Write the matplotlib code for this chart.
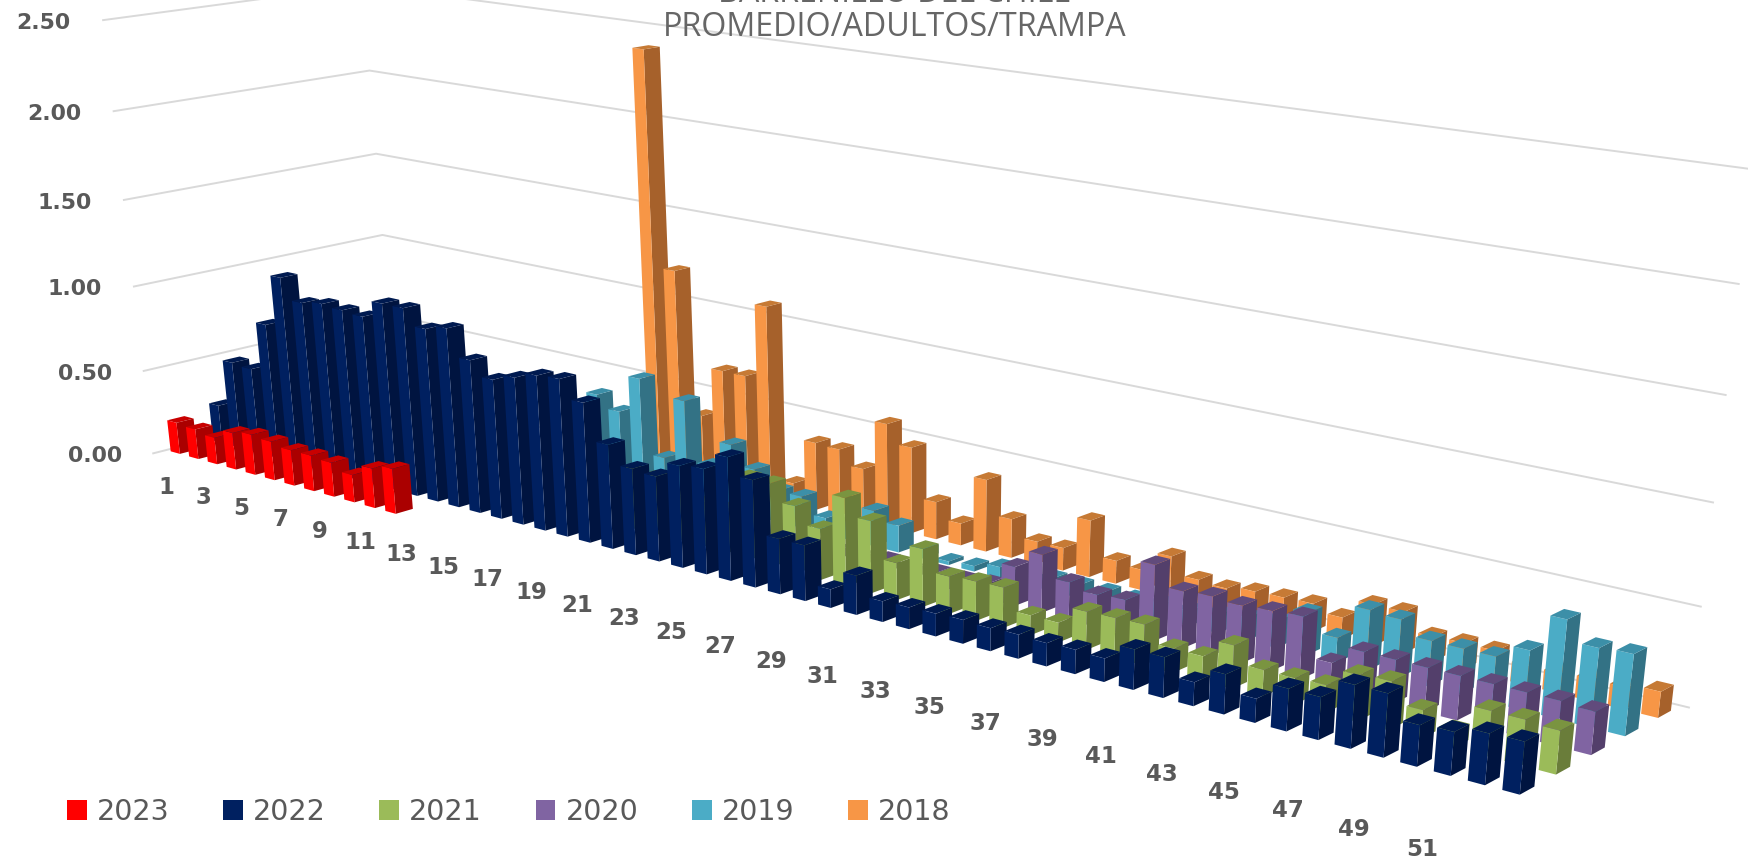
import numpy as np
import matplotlib
matplotlib.use("Agg")
import matplotlib.pyplot as plt
from matplotlib.patches import Patch
from mpl_toolkits.mplot3d import Axes3D  # noqa

n = np.nan
weeks = list(range(1, 53))
years = ["2023", "2022", "2021", "2020", "2019", "2018"]
z_ticks = [0, 0.5, 1.0, 1.5, 2.0, 2.5]

v2023 = [.19, .18, .16, .22, .24, .23, .21, .21, .20, .16, .23, .26]
v2022 = [.23, .52, .51, .80, 1.10, .98, 1.00, .99, .98, 1.08, 1.08, .99, 1.02,
         .87, .79, .83, .87, .88, .78, .58, .48, .47, .56, .575, .67, .58,
         .30, .30, .10, .21, .11, .115, .12, .125, .12, .125, .12, .125, .12,
         .205, .205, .12, .20, .12, .21, .21, .31, .31, .20, .21, .245, .25]
v2021 = [n]*18 + [.33, .33, .25, .25, .25, .46, .46, .37, .28, .48, .39, .20,
         .31, .20, .21, .215, .105, .105, .20, .205, .21, .125, .125, .22, .135,
         .135, .14, .23, .24, .14, .08, .22, .22, .21]
v2020 = [n]*24 + [.05, .05, .05, .07, .05, .07, .07, .085, .21, .31, .20, .17,
         .18, .40, .30, .31, .30, .31, .32, .125, .22, .22, .22, .22, .22, .22,
         .22, .21]
v2019 = [n]*13 + [.49, .42, .64, .21, .57, .23, .38, .27, .18, .18, .09, .10,
         .20, .15, .05, .02, .03, .06, .06, .07, .07, .07, .07, .08, .08, .10,
         .12, .14, .22, .13, .31, .30, .23, .23, .23, .30, .49, .39, .40]
v2018 = [n]*14 + [2.40, 1.20, .39, .68, .68, 1.10, .12, .386, .38, .30, .585,
         .484, .21, .123, .40, .215, .125, .125, .31, .125, .11, .22, .13, .12,
         .14, .145, .15, .115, .22, .22, .13, .135, .135, .10, .10, .11, .11, .13]
series = [v2023, v2022, v2021, v2020, v2019, v2018]

front = ["#FF0000", "#002060", "#9BBB59", "#8064A2", "#4BACC6", "#F79646"]
side = ["#AA0000", "#001440", "#6A7D3A", "#533F6B", "#337285", "#A6612B"]
top = ["#C80000", "#001A50", "#7A9440", "#614B7C", "#3C8FA8", "#C67A35"]
bar_dx, bar_dy = 0.5, 0.4

# Camera calibration: 3D chart positions and where the reference shows them
world = [(.5, -.5, 0), (.5, -.5, .5), (.5, -.5, 1), (.5, -.5, 1.5), (.5, -.5, 2), (.5, -.5, 2.5),
         (.5, 5.5, 1), (.5, 5.5, 1.5), (.5, 5.5, 2),
         (52.5, 5.5, 0), (52.5, 5.5, .5), (52.5, 5.5, 1), (52.5, 5.5, 1.5), (52.5, 5.5, 2),
         (1.25, -.2, 0), (12.25, -.2, 0), (52.25, .8, 0), (52.25, 1.8, 0), (52.25, 2.8, 0),
         (52.25, 3.8, 0), (52.25, 4.8, 0)]
image = [(153, 454), (144, 371), (134, 287), (124, 200), (114, 111), (103, 20),
         (383, 235), (376, 154), (369, 70),
         (1688, 708), (1701, 607), (1713, 503), (1725, 395), (1739, 284),
         (180, 453), (395, 514), (1519, 795), (1556, 774), (1592, 755), (1626, 736), (1658, 717)]

rows = []
for (X, Y, Z), (u, v) in zip(world, image):
    rows.append([X, Y, Z, 1, 0, 0, 0, 0, -u*X, -u*Y, -u*Z, -u])
    rows.append([0, 0, 0, 0, X, Y, Z, 1, -v*X, -v*Y, -v*Z, -v])
norm = np.diag([1/50, 1/6, 1/2.5, 1, 1/50, 1/6, 1/2.5, 1, 1/5e4, 1/6e3, 1/2.5e3, 1/1e3])
_, _, Vt = np.linalg.svd(np.array(rows) @ norm)
P = (norm @ Vt[-1]).reshape(3, 4)
P = P / (P[2] @ np.array([26, 2, 0, 1]))

W, H = 1748, 866
fig = plt.figure(figsize=(W/100, H/100), dpi=100, facecolor="white")
ax = fig.add_axes([0, 0, 1, 1], projection="3d", computed_zorder=False)
ax.patch.set_visible(False)
ax.set_axis_off()
ax.apply_aspect = lambda position=None: None


def fixed_projection():
    to_data = ax.transData.inverted().get_matrix()
    flip = np.array([[1, 0, 0], [0, -1, H], [0, 0, 1.0]])
    Q = to_data @ flip @ P
    return np.array([Q[0], Q[1], [0, 0, 0, -1.0], Q[2]])


ax.get_proj = fixed_projection


def fig_pos(X, Y, Z):
    u, v, w = P @ np.array([X, Y, Z, 1.0])
    return (u/w)/W, 1 - (v/w)/H


grey = "#D9D9D9"
for z in z_ticks:
    ax.plot([.5, .5, 52.5], [-.5, 5.5, 5.5], [z, z, z], color=grey, lw=1.4, zorder=1, clip_on=False)

clear = (0, 0, 0, 0)
order = 10
for r in range(5, -1, -1):
    for w, val in zip(weeks, series[r]):
        if np.isnan(val):
            continue
        faces = [clear, top[r], front[r], clear, clear, side[r]]
        col = ax.bar3d([w - bar_dx/2], [r - bar_dy/2], [0], [bar_dx], [bar_dy], [val],
                       color=faces, shade=False, linewidth=0)
        col.set_zorder(order)
        col.set_clip_on(False)
        order += 1

text_col = "#595959"
for z in z_ticks:
    fx, fy = fig_pos(-.24, -.91, z - .012)
    fig.text(fx, fy, f"{z:.2f}", ha="right", va="center", color=text_col,
             fontsize=15.8, fontweight="bold", family="DejaVu Sans")
for w in weeks[::2]:
    fx, fy = fig_pos(w - .12, -.44, -.2)
    fig.text(fx, fy, str(w), ha="center", va="center", color=text_col,
             fontsize=16.5, fontweight="bold", family="DejaVu Sans")

fig.text(895/W, 1 - 28/H, "PROMEDIO/ADULTOS/TRAMPA", ha="center", va="center",
         color="#666666", fontsize=23.2, family="Open Sans")
fig.text(895/W, 1 + 9/H - 2.5/H, "BARRENILLO DEL CHILE", ha="center", va="center",
         color="#666666", fontsize=23.2, family="Open Sans")

handles = [Patch(facecolor=c, label=y) for c, y in zip(front, years)]
fig.legend(handles=handles, ncol=6, loc="lower left", bbox_to_anchor=(67/W, 1 - 826/H),
           frameon=False, fontsize=20.5, labelcolor=text_col, handlelength=.7, handleheight=.7,
           handletextpad=.35, columnspacing=1.88, borderpad=0, borderaxespad=0)

fig.savefig("out.png", dpi=100, facecolor="white")
